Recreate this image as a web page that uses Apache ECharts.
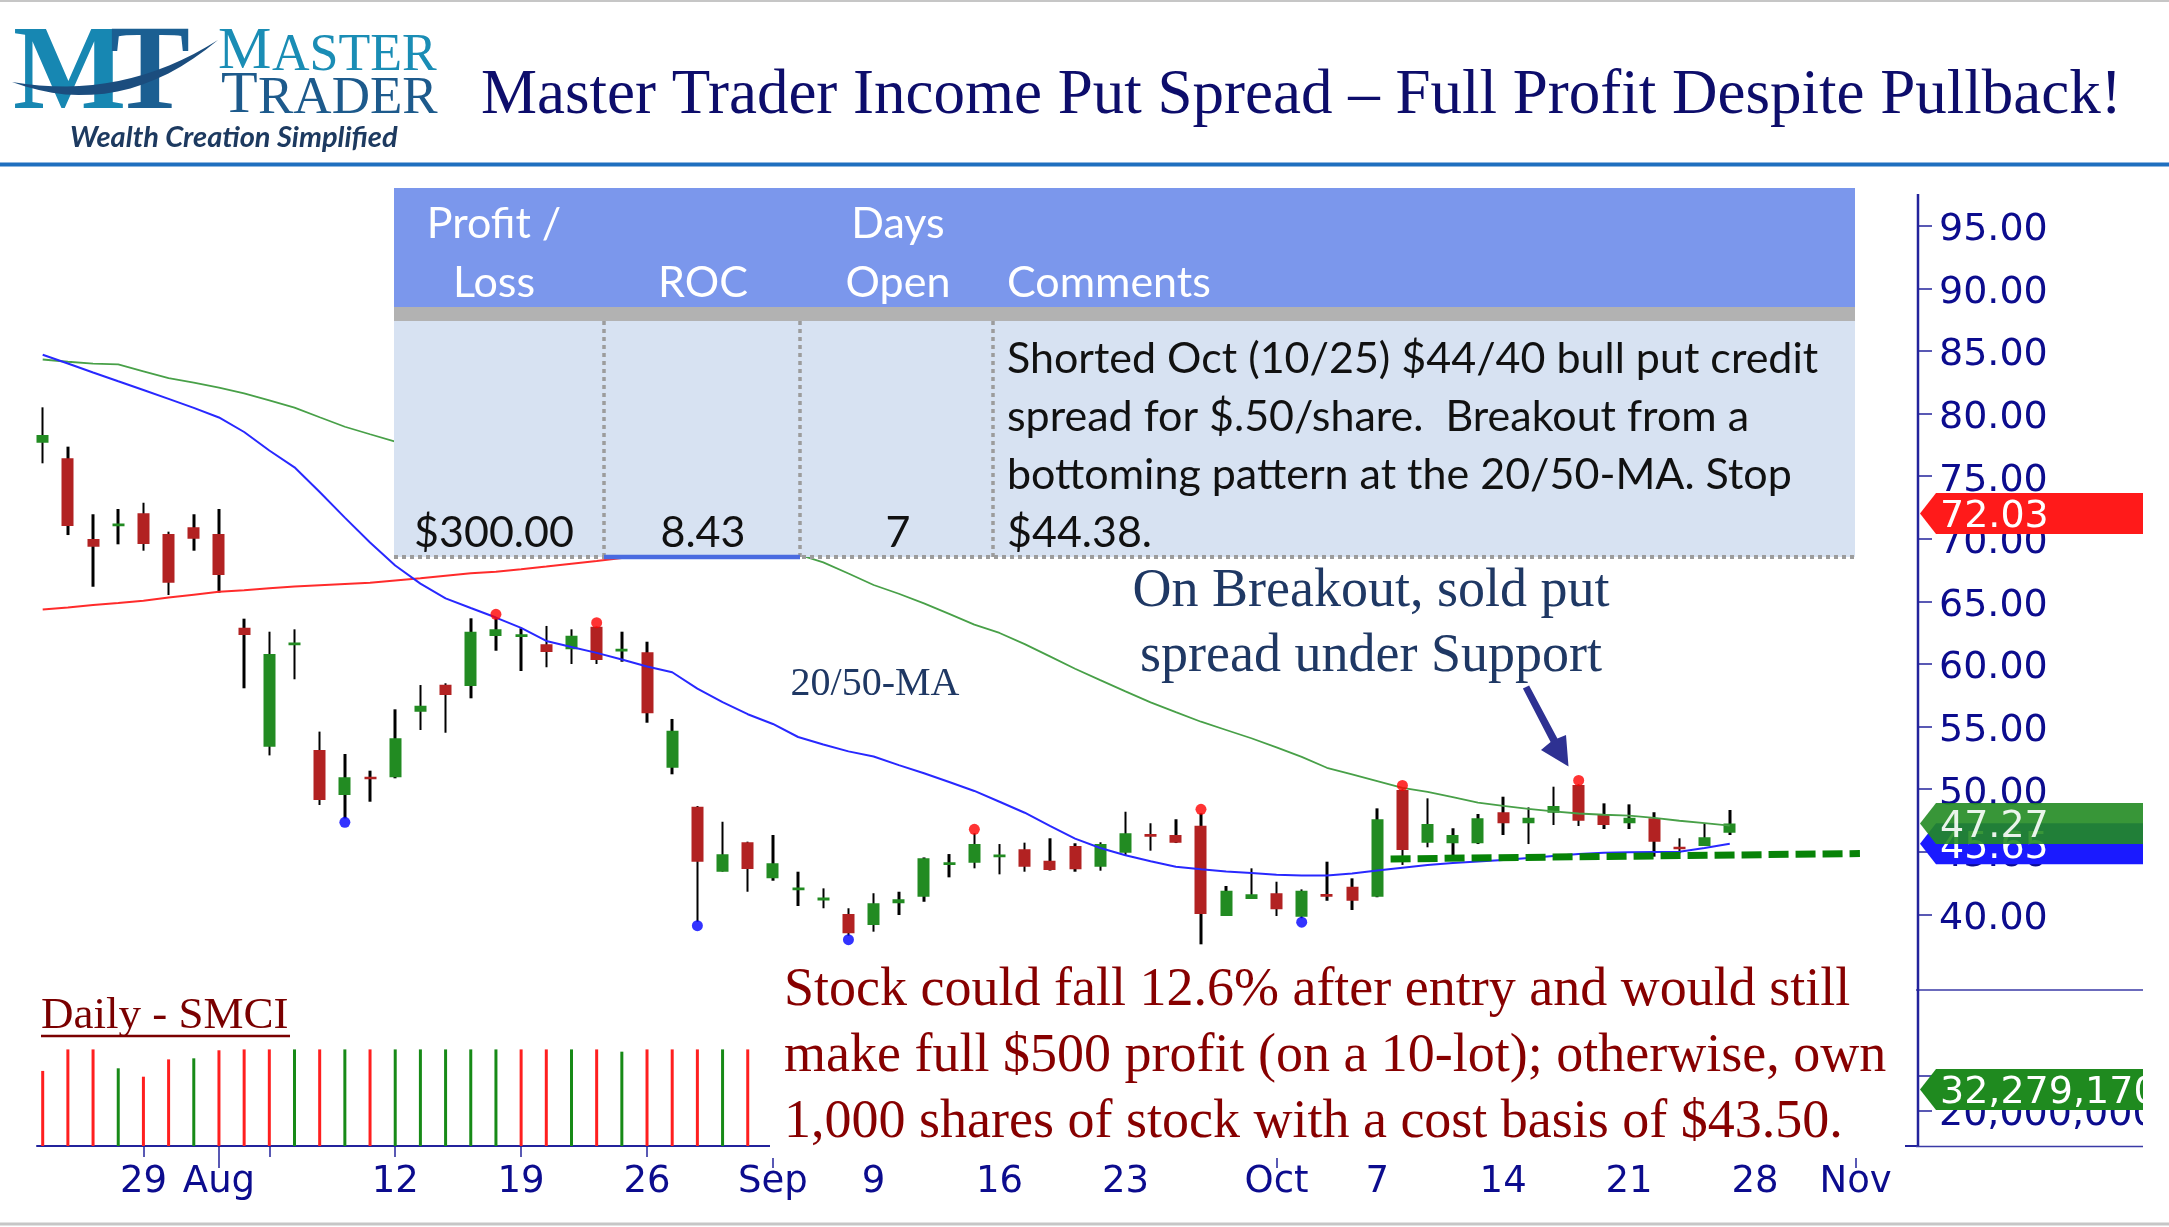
<!DOCTYPE html>
<html>
<head>
<meta charset="utf-8">
<script src="https://cdn.jsdelivr.net/npm/echarts@6/dist/echarts.min.js"></script>
<style>
html,body{margin:0;padding:0;background:#fff;}
#chart{width:2169px;height:1227px;}
</style>
</head>
<body>
<div id="chart"></div>
<script>
// ---------------- DATA ----------------
// trading-day index 0 = Jul 23 2024 ... 67 = Oct 25 2024
const openPx  = [77.68,76.43,69.98,71.00,72.04,70.38,70.92,70.38,62.90,53.39,61.50,53.13,49.54,51.00,50.95,56.19,58.35,58.24,62.24,62.15,61.57,61.17,62.98,61.00,60.93,51.72,48.60,43.41,45.76,42.88,41.92,41.12,40.03,39.15,40.89,41.41,43.95,44.13,44.57,45.20,44.29,45.46,43.81,44.93,46.42,46.34,47.08,39.87,41.23,41.69,39.82,41.62,42.21,41.41,49.94,45.73,45.68,45.68,48.16,47.28,48.12,50.34,48.02,47.28,47.68,45.40,45.46,46.53];
const closePx = [78.29,71.02,69.37,71.22,69.59,66.49,70.00,67.11,62.31,60.80,61.72,49.14,50.95,50.80,54.06,56.67,57.52,62.58,62.77,62.37,60.96,62.26,60.32,61.22,56.06,54.67,44.21,44.80,43.62,44.08,42.14,41.34,38.49,40.89,41.21,44.48,44.17,45.62,44.79,43.81,43.55,43.60,45.62,46.48,46.20,45.73,40.03,41.89,41.61,40.41,41.89,41.40,41.09,47.60,45.14,47.22,46.34,47.68,47.28,47.72,48.66,47.48,47.14,47.72,45.81,45.20,46.16,47.27];
const lowPx   = [76.03,70.30,66.17,69.56,69.05,65.51,69.05,65.70,58.06,52.70,58.78,48.74,47.67,49.00,50.87,54.73,54.51,57.26,61.06,59.44,59.74,60.00,60.00,60.18,55.31,51.19,39.42,43.41,41.81,42.69,40.67,40.49,38.30,38.62,39.95,41.01,42.96,43.68,43.20,43.41,43.50,43.41,43.49,44.74,45.09,45.70,37.61,39.87,41.23,39.87,39.70,41.09,40.35,41.37,43.95,45.36,44.74,45.62,46.34,45.62,47.14,47.06,46.82,46.82,44.61,44.88,45.46,46.34];
const highPx  = [80.50,77.36,71.96,72.38,72.88,70.57,71.96,72.38,63.62,62.58,62.77,54.60,52.81,51.48,56.38,58.32,58.46,63.65,63.65,62.85,63.04,62.77,62.98,62.58,61.78,55.61,48.66,47.40,45.81,46.34,43.41,42.08,40.49,41.69,41.81,44.55,44.82,46.48,45.62,45.73,46.08,45.68,45.76,48.20,47.28,47.60,48.07,42.27,43.68,42.61,42.00,44.21,42.88,48.47,49.98,49.27,46.88,48.02,49.40,48.55,50.20,50.38,48.87,48.79,48.16,46.08,47.28,48.34];
const priorClose = 79.60; // Jul 22 close (estimate) – only used for the first volume bar colour

const ma20 = [84.70,84.00,83.28,82.58,81.89,81.18,80.46,79.69,78.53,77.05,75.71,73.74,71.69,69.70,67.87,66.42,65.24,64.47,63.71,62.88,61.84,61.36,60.89,60.36,59.80,59.34,58.04,56.95,55.99,55.21,54.17,53.57,53.02,52.61,51.92,51.27,50.58,49.86,49.00,48.12,47.07,46.05,45.30,44.72,44.25,43.81,43.60,43.43,43.30,43.17,43.11,43.11,43.27,43.51,43.73,43.95,44.10,44.22,44.35,44.50,44.67,44.82,44.93,44.97,44.99,45.01,45.30,45.65];
const ma50 = [84.32,84.14,83.99,83.93,83.38,82.83,82.48,82.07,81.62,81.05,80.48,79.71,78.95,78.35,77.76,77.09,76.50,75.96,75.44,74.90,74.31,73.70,73.12,72.58,72.05,71.49,70.90,70.36,69.85,69.30,68.76,68.12,67.23,66.31,65.61,64.84,64.00,63.15,62.48,61.59,60.61,59.62,58.71,57.81,56.93,56.15,55.39,54.73,54.07,53.34,52.58,51.71,51.18,50.65,50.11,49.79,49.37,48.93,48.67,48.43,48.23,48.06,47.96,47.89,47.71,47.48,47.29,47.09];
const ma200 = [64.35,64.51,64.71,64.87,65.05,65.31,65.54,65.77,65.90,66.05,66.19,66.29,66.39,66.49,66.67,66.84,67.04,67.24,67.36,67.56,67.78,68.01,68.23,68.47,68.57,68.65,68.75,68.83,68.93,69.02,69.10,69.19,69.26,69.35,69.42,69.51,69.58,69.67,69.74,69.83,69.90,69.99,70.06,70.15,70.22,70.31,70.38,70.47,70.54,70.63,70.70,70.79,70.86,70.95,71.02,71.11,71.18,71.27,71.34,71.43,71.50,71.59,71.66,71.75,71.81,71.89,71.95,72.03];

// volume in millions of shares
const volumeM = [42.9,55.2,55.2,44.4,39.6,49.5,50.1,54.7,55.2,55.2,55.2,55.2,55.2,55.2,55.2,55.2,55.2,55.2,55.2,55.2,55.2,55.2,55.2,53.9,55.2,55.2,55.2,55.2,55.2,48,52,45,50,47,38,44,36,41,33,30,28,31,35,39,30,27,55,40,30,27,29,33,25,55,55,45,34,33,36,30,34,44,29,27,33,22,24,32.27917];

const pivotHighIdx = [18,22,37,46,54,61];
const pivotLowIdx  = [12,26,32,50];
const supportLine  = [[53.53,44.43],[72.17,44.86]];   // [day index, price]

const dayLabels    = ['29','Aug','12','19','26','Sep','9','16','23','Oct','7','14','21','28','Nov'];
const dayLabelIdx  = [4,7,14,19,24,29,33,38,43,49,53,58,63,68,72];
const weekTickIdx  = [4,9,14,19,24,33,38,43,48,53,58,63,68];
const monthTickIdx = [7,29,49,72];
const priceTicks   = [40,45,50,55,60,65,70,75,80,85,90,95];
const volumeTicks  = [20000000,40000000];
const volumeLabelTicks = [20000000];

const titleText = 'Master Trader Income Put Spread \u2013 Full Profit Despite Pullback!';
const tableHeaderRow1 = ['Profit /','','Days',''];
const tableHeaderRow2 = ['Loss','ROC','Open','Comments'];
const tableValues = ['$300.00','8.43','7'];
const commentLines = ['Shorted Oct (10/25) $44/40 bull put credit','spread for $.50/share.  Breakout from a','bottoming pattern at the 20/50-MA. Stop','$44.38.'];
const noteBreakout = ['On Breakout, sold put','spread under Support'];
const noteStock = ['Stock could fall 12.6% after entry and would still','make full $500 profit (on a 10-lot); otherwise, own','1,000 shares of stock with a cost basis of $43.50.'];
const maLabel = '20/50-MA';
const paneLabel = 'Daily - SMCI';

// ---------------- LAYOUT ----------------
const PLOT_LEFT = 37, AXIS_X = 1918, DAY0_X = 42.7, DAY_PX = 25.18;
const X_MIN = (PLOT_LEFT - DAY0_X) / DAY_PX;
const X_MAX = (AXIS_X - DAY0_X) / DAY_PX;
const AX = '#23239c', LBL = '#0c0c8e';
const SERIF = 'Liberation Serif', SANS = 'Lato', AXF = 'DejaVu Sans';

const candleData = openPx.map((o, i) => [i, o, closePx[i], lowPx[i], highPx[i]]);
const wickData = openPx.map((o, i) => [i, lowPx[i], highPx[i], lowPx[i], highPx[i]]);
const volData = volumeM.map((v, i) => {
  const prev = i === 0 ? priorClose : closePx[i - 1];
  return {value: [i, v * 1e6], itemStyle: {color: closePx[i] >= prev ? '#178a17' : '#ff1f1f'}};
});
// y-axis label: a tiny spacer line above the number lowers it onto its tick
const yLabelRich = {s: {height: 9, lineHeight: 9, fontSize: 1}, n: {fontFamily: AXF, fontSize: 38, color: LBL, lineHeight: 40}};

const chart = echarts.init(document.getElementById('chart'));
const option = {
  animation: false,
  backgroundColor: '#ffffff',
  grid: [
    {left: PLOT_LEFT, top: 194, width: AXIS_X - PLOT_LEFT, height: 783},
    {left: PLOT_LEFT, top: 1049, width: AXIS_X - PLOT_LEFT, height: 97}
  ],
  xAxis: [
    {gridIndex: 0, type: 'value', min: X_MIN, max: X_MAX, show: false, axisLine: {onZero: false}},
    {gridIndex: 1, type: 'value', position: 'bottom', min: X_MIN, max: X_MAX,
     axisLine: {show: true, onZero: false, lineStyle: {color: AX, width: 2}},
     axisTick: {show: true, customValues: weekTickIdx, length: 11, lineStyle: {color: AX, width: 1.5}},
     axisLabel: {show: true, customValues: dayLabelIdx, formatter: v => dayLabels[dayLabelIdx.indexOf(Math.round(v))],
                 fontFamily: AXF, fontSize: 37, color: LBL, margin: 18},
     splitLine: {show: false}},
    {gridIndex: 1, type: 'value', position: 'bottom', offset: 0, min: X_MIN, max: X_MAX,
     axisLine: {show: false, onZero: false},
     axisTick: {show: true, customValues: monthTickIdx, length: 22, lineStyle: {color: AX, width: 1.5}},
     axisLabel: {show: false}, splitLine: {show: false}}
  ],
  yAxis: [
    {gridIndex: 0, type: 'value', position: 'right', min: 35, max: 97.54, interval: 5,
     axisLine: {show: false, onZero: false},
     axisTick: {show: true, customValues: priceTicks, length: 14, lineStyle: {color: AX, width: 1.5}},
     axisLabel: {show: true, customValues: priceTicks, formatter: v => '{s| }\n{n|' + v.toFixed(2) + '}',
                 rich: yLabelRich, margin: 21},
     splitLine: {show: false}},
    {gridIndex: 1, type: 'value', position: 'right', min: 0, max: 55.43e6,
     axisLine: {show: false, onZero: false},
     axisTick: {show: true, customValues: volumeTicks, length: 14, lineStyle: {color: AX, width: 1.5}},
     axisLabel: {show: true, customValues: volumeLabelTicks, formatter: v => '{s| }\n{n|' + Math.round(v).toLocaleString('en-US') + '}',
                 rich: yLabelRich, margin: 21},
     splitLine: {show: false}}
  ],
  series: [
    {type: 'candlestick', name: 'wicks', xAxisIndex: 0, yAxisIndex: 0, data: wickData, barWidth: 3,
     encode: {x: 0, y: [1, 2, 3, 4]}, silent: true, z: 2,
     itemStyle: {color: '#000', color0: '#000', borderColor: '#000', borderColor0: '#000', borderWidth: 0}},
    {type: 'candlestick', name: 'bodies', xAxisIndex: 0, yAxisIndex: 0, data: candleData, barWidth: 12.5,
     encode: {x: 0, y: [1, 2, 3, 4]}, silent: true, z: 2,
     itemStyle: {color: '#228b22', color0: '#b22222', borderColor: '#228b22', borderColor0: '#b22222', borderWidth: 0}},
    {type: 'line', name: 'MA200', xAxisIndex: 0, yAxisIndex: 0, data: ma200.map((v, i) => [i, v]),
     symbol: 'none', silent: true, z: 3, lineStyle: {color: '#ff2b2b', width: 2}},
    {type: 'line', name: 'MA50', xAxisIndex: 0, yAxisIndex: 0, data: ma50.map((v, i) => [i, v]),
     symbol: 'none', silent: true, z: 3, lineStyle: {color: '#48a048', width: 1.8}},
    {type: 'line', name: 'MA20', xAxisIndex: 0, yAxisIndex: 0, data: ma20.map((v, i) => [i, v]),
     symbol: 'none', silent: true, z: 3, lineStyle: {color: '#2828ff', width: 2}},
    {type: 'line', name: 'support', xAxisIndex: 0, yAxisIndex: 0, data: supportLine,
     symbol: 'none', silent: true, z: 4, lineStyle: {color: '#078307', width: 7, type: [20, 7], cap: 'butt'}},
    {type: 'scatter', name: 'pivotHigh', xAxisIndex: 0, yAxisIndex: 0,
     data: pivotHighIdx.map(i => [i, highPx[i]]), symbolSize: 11, symbolOffset: [0, -4], silent: true, z: 5,
     itemStyle: {color: '#ff0000'}},
    {type: 'scatter', name: 'pivotLow', xAxisIndex: 0, yAxisIndex: 0,
     data: pivotLowIdx.map(i => [i, lowPx[i]]), symbolSize: 11, symbolOffset: [0, 4], silent: true, z: 5,
     itemStyle: {color: '#0000ff'}},
    {type: 'bar', name: 'volume', xAxisIndex: 1, yAxisIndex: 1, data: volData, barWidth: 3, silent: true}
  ]
};
chart.setOption(option);

// ---------------- GRAPHICS (header, table, notes, value tags) ----------------
function T(x, y, text, opt) {
  opt = opt || {};
  return {type: 'text', x: x, y: y, z: opt.z || 60, silent: true,
    style: {text: text, fill: opt.fill || '#000', fontFamily: opt.font || SERIF, fontSize: opt.size || 40,
      fontWeight: opt.weight || 'normal', fontStyle: opt.style || 'normal', opacity: opt.opacity == null ? 1 : opt.opacity,
      align: opt.align || 'left', textAlign: opt.align || 'left',
      verticalAlign: opt.valign || 'middle', textVerticalAlign: opt.valign || 'middle'}};
}
function R(x, y, w, h, fill, z) {
  return {type: 'rect', z: z || 55, silent: true, shape: {x: x, y: y, width: w, height: h}, style: {fill: fill}};
}
function L(x1, y1, x2, y2, stroke, w, dash, z) {
  const st = {stroke: stroke, lineWidth: w, lineCap: 'butt'};
  if (dash) st.lineDash = dash;
  return {type: 'line', z: z || 57, silent: true, shape: {x1: x1, y1: y1, x2: x2, y2: y2}, style: st};
}
function quad(p0, c, p1, n) {
  const pts = [];
  for (let k = 0; k <= n; k++) {
    const t = k / n, a = (1 - t) * (1 - t), b = 2 * (1 - t) * t, d = t * t;
    pts.push([a * p0[0] + b * c[0] + d * p1[0], a * p0[1] + b * c[1] + d * p1[1]]);
  }
  return pts;
}

const g = [];
// slide borders + header rule
g.push(L(0, 1, 2169, 1, '#c6c6c6', 2));
g.push(L(0, 1224, 2169, 1224, '#c6c6c6', 3));
g.push(L(0, 164.5, 2169, 164.5, '#1f6fbf', 4));

// logo
g.push(T(13, 137, 'M', {font: SERIF, size: 120, weight: 'bold', fill: '#1787b2', valign: 'bottom'}));
g.push(T(110, 137, 'T', {font: SERIF, size: 120, weight: 'bold', fill: '#1b5f92', valign: 'bottom'}));
const swoosh = quad([12, 82], [120, 122], [218, 40], 16).concat(quad([218, 40], [122, 101], [12, 82], 16).slice(1));
g.push({type: 'polygon', z: 61, silent: true, shape: {points: swoosh}, style: {fill: '#1b4d7e'}});
g.push(T(218, 82, 'M', {font: SERIF, size: 60, fill: '#1a8db5', valign: 'bottom'}));
g.push(T(272, 82, 'ASTER', {font: SERIF, size: 52, fill: '#1a8db5', valign: 'bottom'}));
g.push(T(221, 126, 'T', {font: SERIF, size: 60, fill: '#1d5a8c', valign: 'bottom'}));
g.push(T(258, 126, 'RADER', {font: SERIF, size: 53, fill: '#1d5a8c', valign: 'bottom'}));
g.push(T(70, 138, 'Wealth Creation Simplified', {font: SANS, size: 29, weight: 'bold', style: 'italic', fill: '#1d3a60'}));

// title
g.push(T(481, 96, titleText, {font: SERIF, size: 63, fill: '#0d0d6b'}));

// table
const TX = 394, TW = 1461;
g.push(R(TX, 188, TW, 119, '#7b97ec'));
g.push(R(TX, 307, TW, 14, '#b2b2b2'));
g.push(R(TX, 321, TW, 236, '#d7e2f2'));
[604, 800, 993].forEach(x => g.push(L(x, 321, x, 557, '#9c9c9c', 3.5, [4, 4])));
g.push(L(TX, 557, TX + TW, 557, '#9c9c9c', 4, [4, 4]));
g.push(L(604, 557, 800, 557, '#4a6be0', 4.5, null, 58));
const colCenters = [494, 703, 898, 1007];
tableHeaderRow1.forEach((t, k) => { if (t) g.push(T(colCenters[k], 224, t, {font: SANS, size: 43, fill: '#ffffff', align: k === 3 ? 'left' : 'center'})); });
tableHeaderRow2.forEach((t, k) => { if (t) g.push(T(colCenters[k], 283, t, {font: SANS, size: 43, fill: '#ffffff', align: k === 3 ? 'left' : 'center'})); });
tableValues.forEach((t, k) => g.push(T(colCenters[k], 533, t, {font: SANS, size: 43, fill: '#111111', align: 'center'})));
commentLines.forEach((t, k) => g.push(T(1007, 359 + 58 * k, t, {font: SANS, size: 43, fill: '#111111'})));

// notes on chart
g.push(T(1371, 592, noteBreakout[0], {font: SERIF, size: 54, fill: '#1f3864', align: 'center'}));
g.push(T(1371, 657, noteBreakout[1], {font: SERIF, size: 54, fill: '#1f3864', align: 'center'}));
g.push(T(875, 684, maLabel, {font: SERIF, size: 40, fill: '#1f3864', align: 'center'}));
g.push({type: 'polygon', z: 60, silent: true, style: {fill: '#2e3192'},
  shape: {points: [[1522.9, 688.6], [1550.6, 742.0], [1541, 750], [1568.5, 766.5], [1566, 735], [1557.4, 738.4], [1529.1, 685.4]]}});

// white box + stock note
g.push(R(770, 950, 1135, 208, '#ffffff', 56));
noteStock.forEach((t, k) => g.push(T(784, 991 + 66 * k, t, {font: SERIF, size: 54, fill: '#870000'})));

// pane label
g.push(T(41, 1016, paneLabel, {font: SERIF, size: 45, fill: '#7a0000'}));
g.push(L(41, 1036, 290, 1036, '#7a0000', 2.5));

// right axis lines
g.push(L(AXIS_X, 194, AXIS_X, 1146, AX, 2.5, null, 58));
g.push(L(1916, 990, 2143, 990, '#3a3aa6', 1.5));
g.push(L(1916, 1146.5, 2143, 1146.5, '#3a3aa6', 1.5));

// value tags through the axes' scales (each later tag sits above the earlier ones)
let tagZ = 70;
function tag(y, color, text, opacity) {
  const h = 41;
  const zz = tagZ; tagZ += 2;
  return [
    {type: 'polygon', z: zz, silent: true, shape: {points: [[AXIS_X + 2, y], [1936, y - h / 2], [2143, y - h / 2], [2143, y + h / 2], [1936, y + h / 2]]},
     style: {fill: color, opacity: opacity}},
    T(1940, y + 4, text, {font: AXF, size: 38, fill: '#ffffff', z: zz + 1, opacity: opacity})
  ];
}
const last = openPx.length - 1;
const yPx = v => chart.convertToPixel({yAxisIndex: 0}, v);
const yVol = v => chart.convertToPixel({yAxisIndex: 1}, v);
tag(yPx(ma200[last]), '#ff1a1a', ma200[last].toFixed(2), 1).forEach(e => g.push(e));
tag(yPx(ma20[last]), '#1a1aff', ma20[last].toFixed(2), 1).forEach(e => g.push(e));
tag(yPx(closePx[last]), '#228b22', closePx[last].toFixed(2), 0.9).forEach(e => g.push(e));
const lastVol = Math.round(volumeM[last] * 1e6);
tag(yVol(lastVol), '#1f8a1f', lastVol.toLocaleString('en-US'), 1).forEach(e => g.push(e));
g.push(R(2143, 168, 26, 1050, '#ffffff', 90));

chart.setOption({graphic: {elements: g}});
</script>
</body>
</html>
